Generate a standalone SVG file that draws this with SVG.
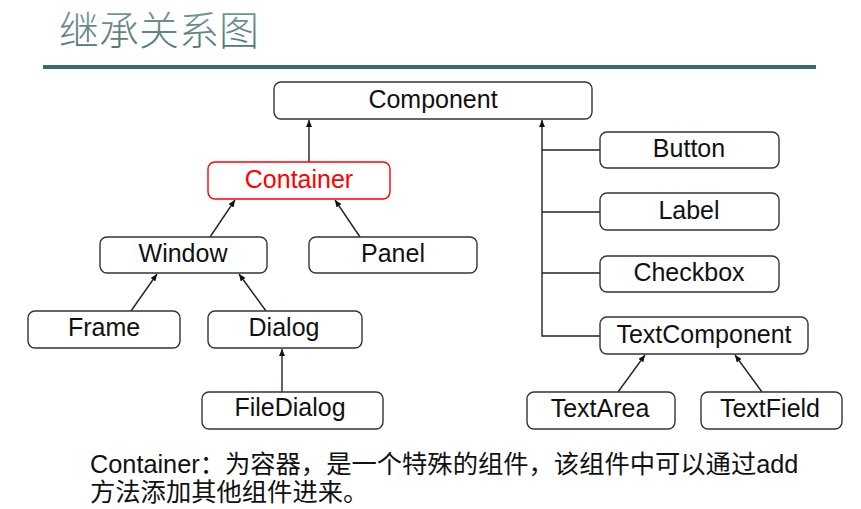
<svg xmlns="http://www.w3.org/2000/svg" width="861" height="509" viewBox="0 0 861 509">
<style>
.box{fill:#fff;stroke:#333;stroke-width:1.4}
.red{stroke:#f00}
.lbl{font-family:"Liberation Sans",Arial,sans-serif;font-size:25px;fill:#111;text-anchor:middle}
.cn{font-family:"Liberation Sans","Noto Sans CJK SC",sans-serif;font-size:25.3px;fill:#111}
.ln{fill:none;stroke:#222;stroke-width:1.4}
</style>
<defs>
<marker id="ah" markerUnits="userSpaceOnUse" markerWidth="8" markerHeight="6" refX="7" refY="3" orient="auto">
<path d="M0,0 L7,3 L0,6 z" fill="#111"/>
</marker>
<linearGradient id="tg" x1="0" y1="0" x2="0" y2="1">
<stop offset="0" stop-color="#7fa3a1"/>
<stop offset="1" stop-color="#456f6c"/>
</linearGradient>
</defs>
<rect width="861" height="509" fill="#fff"/>
<text x="59" y="45" font-family="'Noto Sans CJK SC',sans-serif" font-size="40" font-weight="300" fill="url(#tg)">继承关系图</text>
<line x1="43" y1="67" x2="816" y2="67" stroke="#3a6a67" stroke-width="4"/>

<g id="connectors">
<line class="ln" x1="309" y1="162" x2="309" y2="120" marker-end="url(#ah)"/>
<line class="ln" x1="210" y1="237" x2="235" y2="200" marker-end="url(#ah)"/>
<line class="ln" x1="360" y1="237" x2="335" y2="200" marker-end="url(#ah)"/>
<line class="ln" x1="131" y1="311" x2="157" y2="274" marker-end="url(#ah)"/>
<line class="ln" x1="266" y1="311" x2="239" y2="274" marker-end="url(#ah)"/>
<line class="ln" x1="282" y1="392" x2="282" y2="349" marker-end="url(#ah)"/>
<polyline class="ln" points="600,336 542,336 542,120" marker-end="url(#ah)"/>
<line class="ln" x1="542" y1="150" x2="600" y2="150"/>
<line class="ln" x1="542" y1="212" x2="600" y2="212"/>
<line class="ln" x1="542" y1="273" x2="600" y2="273"/>
<line class="ln" x1="618" y1="392" x2="645" y2="355" marker-end="url(#ah)"/>
<line class="ln" x1="762" y1="392" x2="735" y2="355" marker-end="url(#ah)"/>
</g>

<g id="component"><rect class="box" x="274" y="82" width="318" height="37" rx="7"/><text class="lbl" x="433" y="108">Component</text></g>
<g id="container"><rect class="box red" x="208" y="162" width="182" height="37" rx="7"/><text class="lbl" x="299" y="188" fill="#f00" style="fill:#f00">Container</text></g>
<g id="window"><rect class="box" x="100" y="237" width="167" height="36" rx="7"/><text class="lbl" x="183" y="262">Window</text></g>
<g id="panel"><rect class="box" x="309" y="237" width="168" height="36" rx="7"/><text class="lbl" x="393" y="262">Panel</text></g>
<g id="frame"><rect class="box" x="28" y="311" width="152" height="37" rx="7"/><text class="lbl" x="104" y="336">Frame</text></g>
<g id="dialog"><rect class="box" x="208" y="311" width="154" height="37" rx="7"/><text class="lbl" x="284" y="336">Dialog</text></g>
<g id="filedialog"><rect class="box" x="202" y="392" width="181" height="37" rx="7"/><text class="lbl" x="290" y="416">FileDialog</text></g>
<g id="button"><rect class="box" x="600" y="132" width="179" height="36" rx="7"/><text class="lbl" x="689" y="157">Button</text></g>
<g id="label"><rect class="box" x="600" y="193" width="179" height="37" rx="7"/><text class="lbl" x="689" y="219">Label</text></g>
<g id="checkbox"><rect class="box" x="600" y="256" width="179" height="36" rx="7"/><text class="lbl" x="689" y="281">Checkbox</text></g>
<g id="textcomponent"><rect class="box" x="600" y="317" width="208" height="37" rx="7"/><text class="lbl" x="704" y="343">TextComponent</text></g>
<g id="textarea"><rect class="box" x="527" y="392" width="148" height="37" rx="7"/><text class="lbl" x="600" y="417">TextArea</text></g>
<g id="textfield"><rect class="box" x="701" y="392" width="141" height="37" rx="7"/><text class="lbl" x="770" y="417">TextField</text></g>

<text class="cn" x="90" y="473">Container：为容器，是一个特殊的组件，该组件中可以通过add</text>
<text class="cn" x="90" y="501">方法添加其他组件进来。</text>
</svg>
